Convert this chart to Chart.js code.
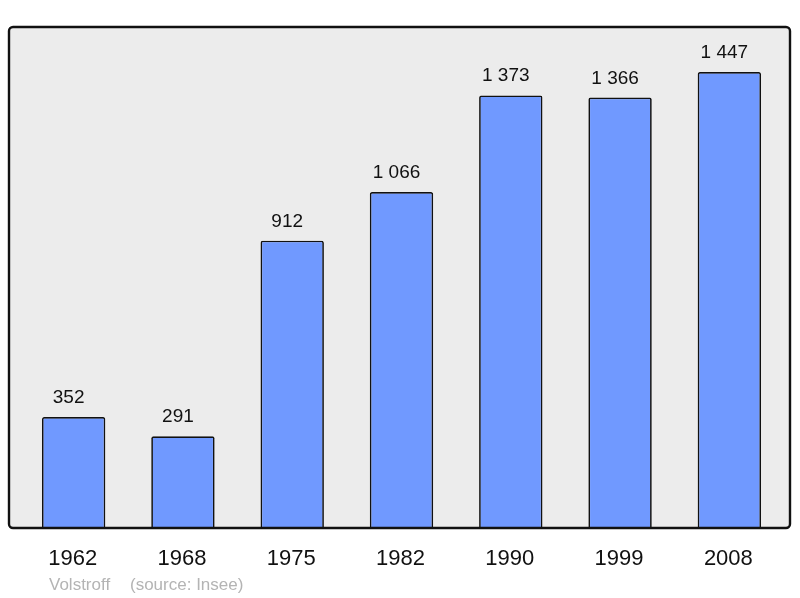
<!DOCTYPE html>
<html>
<head>
<meta charset="utf-8">
<script src="https://cdn.jsdelivr.net/npm/chart.js@4"></script>
<style>
  html, body { margin: 0; padding: 0; background: #fff; }
  #wrap { width: 800px; height: 598px; position: relative; }
</style>
</head>
<body>
<div id="wrap"><canvas id="c" width="800" height="598"></canvas></div>
<script>
const years = ['1962', '1968', '1975', '1982', '1990', '1999', '2008'];
const population = [352, 291, 912, 1066, 1373, 1366, 1447];
const footerName = 'Volstroff';
const footerSource = '(source: Insee)';

const fmt = (v) => String(v).replace(/\B(?=(\d{3})+(?!\d))/g, ' ');
const FONT = '"Liberation Sans", Arial, sans-serif';

// gray frame behind the bars
const frame = {
  id: 'frame',
  beforeDatasetsDraw(chart) {
    const { ctx, chartArea: a } = chart;
    const x = a.left - 10, y = a.top, w = a.right + 6 - x, h = a.bottom - y;
    ctx.save();
    ctx.beginPath();
    ctx.roundRect(x, y, w, h, 4);
    ctx.fillStyle = '#ececec';
    ctx.fill();
    ctx.restore();
  },
  afterDatasetsDraw(chart) {
    const { ctx, chartArea: a } = chart;
    const x = a.left - 10, y = a.top, w = a.right + 6 - x, h = a.bottom - y;
    ctx.save();
    ctx.beginPath();
    ctx.roundRect(x, y, w, h, 4);
    ctx.lineWidth = 2.4;
    ctx.strokeStyle = '#111';
    ctx.stroke();
    ctx.restore();
  }
};

// value labels, year labels and footer
const labels = {
  id: 'labels',
  afterDraw(chart) {
    const { ctx, chartArea: a } = chart;
    const xs = chart.scales.x, ys = chart.scales.y;
    ctx.save();
    ctx.textAlign = 'center';
    ctx.textBaseline = 'alphabetic';
    ctx.fillStyle = '#111';
    ctx.font = '19px ' + FONT;
    population.forEach((v, i) => {
      ctx.fillText(fmt(v), xs.getPixelForValue(i) - 5, ys.getPixelForValue(v) - 14);
    });
    ctx.font = '22px ' + FONT;
    years.forEach((yr, i) => {
      ctx.fillText(yr, xs.getPixelForValue(i) - 1, a.bottom + 37);
    });
    ctx.textAlign = 'left';
    ctx.fillStyle = '#b4b4b4';
    ctx.font = '17px ' + FONT;
    ctx.fillText(footerName, a.left + 30, a.bottom + 62);
    ctx.fillText(footerSource, a.left + 111, a.bottom + 62);
    ctx.restore();
  }
};

new Chart(document.getElementById('c'), {
  type: 'bar',
  data: {
    labels: years,
    datasets: [{
      data: population,
      backgroundColor: '#7099ff',
      borderColor: '#111',
      borderWidth: 1.7,
      borderRadius: 2,
      borderSkipped: 'bottom',
      barPercentage: 0.58,
      categoryPercentage: 1
    }]
  },
  options: {
    responsive: false,
    animation: false,
    devicePixelRatio: 1,
    layout: { padding: { left: 19, right: 16, top: 27, bottom: 70 } },
    plugins: { legend: { display: false }, tooltip: { enabled: false } },
    scales: {
      x: { display: false },
      y: { display: false, min: 0, max: 1590 }
    }
  },
  plugins: [frame, labels]
});
</script>
</body>
</html>
